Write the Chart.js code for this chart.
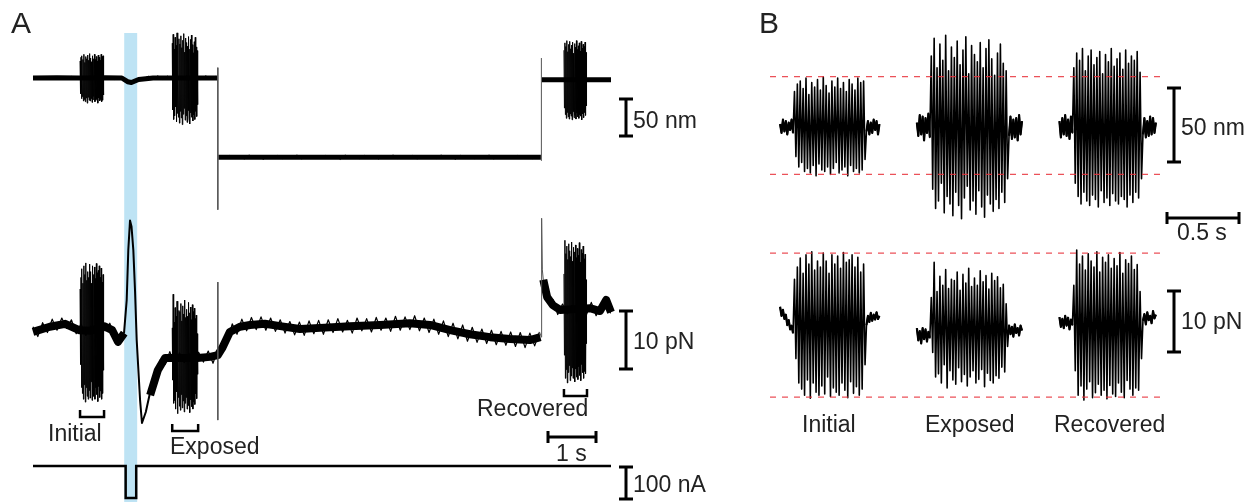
<!DOCTYPE html>
<html>
<head>
<meta charset="utf-8">
<script src="https://cdn.jsdelivr.net/npm/chart.js@4.4.1/dist/chart.umd.min.js"></script>
<style>
  body { margin: 0; background: #fff; }
  #fig { position: relative; width: 1258px; height: 502px; overflow: hidden;
         font-family: "Liberation Sans", Arial, Helvetica, sans-serif; color: #222; }
  canvas { position: absolute; top: 0; }
  .lbl { position: absolute; font-size: 23px; line-height: 1; white-space: nowrap; }
  .panel { font-size: 30px; }
</style>
</head>
<body>
<div id="fig">
  <canvas id="chartA" width="760" height="502" style="left:0"></canvas>
  <canvas id="chartB" width="498" height="502" style="left:760px"></canvas>

  <div class="lbl panel" style="left:11px;top:8px">A</div>
  <div class="lbl panel" style="left:759px;top:8px">B</div>

  <div class="lbl" style="left:633px;top:109px">50 nm</div>
  <div class="lbl" style="left:633px;top:330px">10 pN</div>
  <div class="lbl" style="left:633px;top:473px">100 nA</div>
  <div class="lbl" style="left:556px;top:442px">1 s</div>
  <div class="lbl" style="left:48px;top:422px">Initial</div>
  <div class="lbl" style="left:170px;top:435px">Exposed</div>
  <div class="lbl" style="left:477px;top:397px">Recovered</div>

  <div class="lbl" style="left:1181px;top:116px">50 nm</div>
  <div class="lbl" style="left:1177px;top:221px">0.5 s</div>
  <div class="lbl" style="left:1181px;top:310px">10 pN</div>
  <div class="lbl" style="left:802px;top:413px">Initial</div>
  <div class="lbl" style="left:925px;top:413px">Exposed</div>
  <div class="lbl" style="left:1054px;top:413px">Recovered</div>
</div>

<script>
// ---- stimulus bursts (shared by A and B), 0.01 s between samples ----
const sampleDt = 0.01;
const burstNames = ['Initial', 'Exposed', 'Recovered'];

// displacement, nm
const initialNm = [24,-20, 29,-27, 31,-24, 26,-30, 33,-28, 22,-31, 30,-26, 27,-33, 32,-25, 25,-29,
  34,-30, 28,-27, 23,-32, 31,-28, 27,-24, 33,-31, 26,-29, 30,-27, 24,-33, 32,-26,
  29,-30, 25,-28, 33,-31, 30,-29, 31,-22];
const exposedNm = [48,-42, 60,-55, 40,-50, 56,-38, 45,-58, 62,-47, 38,-52, 54,-60, 47,-44, 58,-53,
  42,-62, 52,-48, 61,-40, 36,-56, 55,-50, 49,-59, 44,-43, 57,-54, 40,-61, 53,-46,
  59,-52, 46,-57, 35,-49, 50,-55, 56,-44, 43,-51, 38,-35];
const recoveredNm = [40,-38, 50,-47, 45,-52, 53,-44, 38,-50, 48,-53, 52,-46, 42,-49, 47,-54, 51,-43,
  36,-51, 49,-48, 44,-53, 53,-45, 41,-50, 46,-52, 50,-47, 39,-49, 52,-54, 43,-46,
  48,-51, 45,-44, 51,-48, 37,-35];

// force, pN
const initialPn = [7,-6, 9,-10, 10.5,-11, 8,-12, 11,-9.5, 9.5,-12.5, 11.5,-10, 8.5,-11.5, 10,-12, 9,-10.5,
  11.3,-11.8, 10,-9, 8,-12.2, 11,-10.8, 9.5,-11.5, 10.8,-12, 8.8,-10, 11.4,-11.2, 9.8,-12.4, 10.2,-9.8,
  11,-11.7, 9,-10.6, 10.6,-12, 8.2,-11, 9.5,-7];
const exposedPn = [4,-5, 9.8,-9, 5,-8.5, 7.5,-10, 6,-7, 8.6,-10.8, 5.5,-8, 7,-9.5, 6.8,-10.2, 8.2,-7.5,
  5.2,-9.8, 7.8,-8.6, 6.4,-10.5, 8.8,-9, 5.8,-8, 7.2,-10, 6,-9.4, 8.4,-7.8, 6.6,-10.6, 7.6,-8.4,
  5.4,-9.6, 8,-10, 6.8,-8.8, 7.4,-9.2, 5.6,-7.4, 6.2,-8.2, 3,-4];
const recoveredPn = [6,-8, 11.8,-12, 9.5,-10.5, 10.8,-12.8, 8.5,-11, 11.2,-9.8, 10,-12.4, 9,-11.6, 11.5,-10.2, 8.2,-12,
  10.6,-11.2, 9.8,-12.6, 11,-10.4, 8.8,-11.8, 10.4,-12.2, 9.2,-10, 11.4,-11.5, 8,-12.4, 10.2,-9.6, 9.6,-11,
  10.8,-12, 8.6,-10.8, 9.4,-11.2, 5,-6];

// resting noise before / after each burst (panel B), 10 samples each
const preNm  = [[2,-4,5,-3,4,-5,3,-2,5,-4], [3,-6,8,-5,7,-9,6,-4,9,-7], [4,-7,6,-5,8,-6,5,-8,7,-4]];
const postNm = [[-3,4,-5,3,-4,5,-2,4,-5,2], [-6,7,-8,5,-7,6,-9,8,-5,4], [-5,6,-7,4,-6,7,-5,6,-4,3]];
const prePn  = [[2.5,1,2,0.5,1.2,-0.5,0.3,-1.2,-0.6,-1.8], [-1,-3,-1.5,-3.5,-1,-2.8,-1.2,-3.2,-1.6,-2.6],
                [0.8,-0.8,0.5,-1,1,-0.6,0.7,-1.2,0.4,-0.5]];
const postPn = [[-0.5,1,0,1.5,0.2,1.2,0.4,1.6,0.5,1], [-0.5,-2,-0.8,-2.4,-0.4,-1.8,-1,-2.2,-0.6,-1.4],
                [0.2,1.3,-0.4,1.6,0.3,1,-0.2,1.8,0.6,1.2]];

// ---- panel A: whole record, time in s ----
const lightOn = [1.90, 2.17];
const burstStartA = [0.98, 2.90, 11.06];
const burstOffsetNmA = [-1, -1, -2.5];
const burstOffsetPnA = [-0.8, -4.5, 2.8];

// slow trends (null = break)
const dispTimes = [0, 0.5, 0.98, 1.5, 1.85, 1.97, 2.05, 2.2, 2.5, 2.9, 3.5, 3.84, 7, 10.60, 11.0, 11.6, 12.04];
const dispNm    = [0, 0.5, 0, 0.5, 0, -5, -6, -2, 0, 0, 0, 0, null, -2.5, -2.5, -2.5, -2.5];
const dispLowTimes = [3.86, 5, 7, 9, 10.58];
const dispLowNm    = [-107, -107, -107, -107, -107];
const forceTimes = [0, 0.35, 0.67, 0.96, 1.2, 1.48, 1.65, 1.77, 1.90, 2.1, 2.44, 2.6, 2.75, 2.88, 3.42, 3.69,
  3.85, 3.94, 4.1, 4.31, 4.52, 4.83, 5.15, 5.56, 5.98, 6.6, 7.23, 7.85, 8.27, 8.69, 9.1, 9.52, 9.94, 10.35,
  10.57, 10.6, 10.63, 10.71, 10.83, 10.98, 11.6, 11.81, 11.94, 12.04];
const forcePn = [-1.2, -0.3, 0.2, -0.9, -1, -0.2, -0.9, -2.9, -1.4, null, -12.1, -7.8, -5.7, -5.7, -5.7, -5.5,
  -5.2, -4, -1.2, -0.3, 0, 0.2, -0.2, -0.7, -0.5, -0.2, 0, 0.3, 0, -0.9, -1.6, -2.1, -2.4, -2.6,
  -2.1, null, 7.8, 4.8, 3.4, 2.6, 2.9, 2.4, 4.3, 2.2];

// noise on the slow traces, sampled every 0.1 s from the segment starts
const slowDt = 0.1;
const dispHighNm = [1.5,-1.8,2.0,-1.2,1.6,-2.2,1.0,-1.5,2.2,-1.0, 1.8,-2.0,1.2,-1.6,2.0,-1.4,1.5,-2.1,0.8,-2.5,
  -5.0,-6.5,-3.0,-1.0,2.5,-1.5,3.0,-2.0,2.6,-2.8, 1.8,-2.4,3.2,-1.6,2.4,-2.6,3.0,-1.8,2.2];
const dispLowNoiseNm = [-105,-109,-104.5,-108.5,-105.5,-109.5,-104,-108,-106,-110,-105,-108.5,-104.5,-109,-105.5,-108,-104,-109.5,-105,-108,
  -106,-109,-104.5,-108.5,-105,-110,-104,-108,-105.5,-109,-104.5,-108,-106,-109.5,-105,-108.5,-104,-109,-105.5,-108,
  -104.5,-109.5,-105,-108,-106,-109,-104,-108.5,-105.5,-110,-104.5,-108,-105,-109,-106,-108.5,-104,-109.5,-105,-108,
  -105.5,-109,-104.5,-108.5,-105,-109,-106];
const dispBackNm = [-1.0,-4.0,-1.5,-4.2,-0.8,-3.8,-1.2,-4.4,-1.0,-3.6,-1.4,-4.0,-0.9,-3.9,-1.6];
const dispSegStart = [0, 3.9, 10.6];
const forcePreLightPn = [-0.3,-2.0,0.4,-1.3,1.0,-0.9,1.2,-0.6,0.9,-1.5, 0.2,-1.8,-0.2,-1.6,0.4,-1.0,0.3,-2.3,-3.0,-1.4];
const forceMidPn = [-11.2,-10.3,-6.0,-6.8,-4.6,-6.9,-4.8,-6.5,-4.9,-6.8, -4.7,-6.4,-4.5,-6.6,-4.2,-3.0,-2.8,0.2,-1.6,1.0,
  -1.0,1.3,-0.8,1.4,-0.9,1.2,-1.1,0.9,-1.4,0.6, -1.7,0.5,-1.8,0.7,-1.5,0.8,-1.6,0.9,-1.3,1.1,
  -1.2,0.8,-1.4,1.2,-1.0,1.1,-1.2,1.3,-0.9,1.2, -1.1,1.5,-0.9,1.4,-0.8,1.6,-1.0,1.2,-1.3,1.0,
  -1.6,0.7,-2.0,0.3,-2.4,0.0,-2.8,-0.4,-3.0,-0.7, -3.2,-0.9,-3.4,-1.1,-3.5,-1.2,-3.7,-1.3,-3.9,-1.4,
  -3.6,-1.2];
const forceBackPn = [7.8,4.2,4.4,1.8,3.6,1.9,3.4,2.0,3.5,1.8,3.9,1.6,3.2,4.6,2.0];
const forceSegStart = [0, 2.45, 10.63];

// fast transient and switching artefacts
const transientTimes = [1.896, 1.952, 1.985, 2.021, 2.052, 2.09, 2.125, 2.16, 2.23, 2.27, 2.35, 2.45];
const transientPn    = [-1.4, 4.3, 12.9, 18, 17, 12.9, 6, -2.6, -12.9, -16.9, -15, -11.2];
const dispArtTimes = [3.85, 3.85, 7, 10.59, 10.59];
const dispArtNm    = [14, -178, null, -112, 27];
const forceArtTimes = [3.85, 3.85, 7, 10.55, 10.59, 10.595, 10.61, 10.63];
const forceArtPn    = [7.4, -16.4, null, -1.2, -2.1, 18.4, 9.5, 7.8];

const currentTimes = [0, 1.93, 1.93, 2.15, 2.15, 12.04];
const currentNa    = [0, 0, -100, -100, 0, 0];

// ---- panel B: segment start times and reference levels ----
const segStartB = [0, 0.95, 1.94];
const dashRange = [-0.07, 2.64];
const refNm = [34, -32];
const refPn = [11.3, -12.3];

// ---- helpers ----
const toPts = (ts, vs) => ts.map((t, i) => ({ x: t, y: vs[i] }));
const seqPts = (t0, vs, off = 0, dt = sampleDt) => vs.map((v, i) => ({ x: t0 + i * dt, y: v + off }));
const burstsNm = [initialNm, exposedNm, recoveredNm];
const burstsPn = [initialPn, exposedPn, recoveredPn];
const burstLen = burstsNm.map(b => b.length * sampleDt);

function line(data, axis, width, color, order, extra) {
  return Object.assign({ data, yAxisID: axis, borderWidth: width, borderColor: color, order,
    pointRadius: 0, fill: false, tension: 0, clip: false, borderJoinStyle: 'round' }, extra || {});
}

function vBar(ctx, x, yTop, len) {
  ctx.beginPath();
  ctx.moveTo(x, yTop); ctx.lineTo(x, yTop + len);
  ctx.moveTo(x - 7, yTop); ctx.lineTo(x + 7, yTop);
  ctx.moveTo(x - 7, yTop + len); ctx.lineTo(x + 7, yTop + len);
  ctx.stroke();
}
function hBar(ctx, x, y, len) {
  ctx.beginPath();
  ctx.moveTo(x, y); ctx.lineTo(x + len, y);
  ctx.moveTo(x, y - 6); ctx.lineTo(x, y + 6);
  ctx.moveTo(x + len, y - 6); ctx.lineTo(x + len, y + 6);
  ctx.stroke();
}
function bracket(ctx, x0, x1, yb) {
  ctx.beginPath();
  ctx.moveTo(x0, yb - 7); ctx.lineTo(x0, yb); ctx.lineTo(x1, yb); ctx.lineTo(x1, yb - 7);
  ctx.stroke();
}
const span = (scale, v) => Math.abs(scale.getPixelForValue(v) - scale.getPixelForValue(0));

// ---- panel A chart ----
const dsA = [
  line(toPts(dispTimes, dispNm), 'yNm', 5, '#000', 6),
  line(toPts(dispLowTimes, dispLowNm), 'yNm', 5, '#000', 6),
  line(toPts(forceTimes, forcePn), 'yPn', 8, '#000', 6),
  line(toPts(dispArtTimes, dispArtNm), 'yNm', 1, '#555', 4),
  line(toPts(transientTimes, transientPn), 'yPn', 2, '#000', 4),
  line(toPts(forceArtTimes, forceArtPn), 'yPn', 1, '#555', 4),
  line(toPts(currentTimes, currentNa), 'yNa', 2.5, '#000', 4, { borderJoinStyle: 'miter' })
];
[dispHighNm, dispLowNoiseNm, dispBackNm].forEach((vs, k) =>
  dsA.push(line(seqPts(dispSegStart[k], vs, 0, slowDt), 'yNm', 1, '#000', 5)));
[forcePreLightPn, forceMidPn, forceBackPn].forEach((vs, k) =>
  dsA.push(line(seqPts(forceSegStart[k], vs, 0, slowDt), 'yPn', 1.2, '#000', 5)));
burstStartA.forEach((t0, k) => {
  dsA.push(line(seqPts(t0, burstsNm[k], burstOffsetNmA[k]), 'yNm', 1, '#000', 1));
  dsA.push(line(seqPts(t0, burstsPn[k], burstOffsetPnA[k]), 'yPn', 1, '#000', 1));
});

const bracketYA = [417, 431, 396];
const panelAExtras = {
  id: 'panelAExtras',
  beforeDatasetsDraw(chart) {
    const { ctx, scales: { x } } = chart;
    const x0 = x.getPixelForValue(lightOn[0]), x1 = x.getPixelForValue(lightOn[1]);
    ctx.save();
    ctx.fillStyle = '#bee3f4';
    ctx.fillRect(x0, 33, x1 - x0, 502 - 33);
    ctx.restore();
  },
  afterDatasetsDraw(chart) {
    const { ctx, scales: { x, yNm, yPn, yNa } } = chart;
    ctx.save();
    ctx.strokeStyle = '#000';
    ctx.lineWidth = 3;
    vBar(ctx, 626, 99, span(yNm, 50));
    vBar(ctx, 626, 311, span(yPn, 10));
    vBar(ctx, 626, 467, span(yNa, 100));
    hBar(ctx, 548, 437, span(x, 1));
    ctx.lineWidth = 2.5;
    burstStartA.forEach((t0, k) => {
      bracket(ctx, x.getPixelForValue(t0), x.getPixelForValue(t0 + burstLen[k]), bracketYA[k]);
    });
    ctx.restore();
  }
};

new Chart(document.getElementById('chartA'), {
  type: 'line',
  data: { datasets: dsA },
  options: {
    responsive: false, animation: false, devicePixelRatio: 1, events: [],
    layout: { padding: { left: 33, right: 149, top: 0, bottom: 0 } },
    plugins: { legend: { display: false }, tooltip: { enabled: false } },
    scales: {
      x: { type: 'linear', display: false, min: 0, max: 12.04 },
      yNm: { type: 'linear', display: false, min: -572.97, max: 105.41 },
      yPn: { type: 'linear', display: false, min: -30.52, max: 56.03 },
      yNa: { type: 'linear', display: false, min: -112.5, max: 1456.25 }
    }
  },
  plugins: [panelAExtras]
});

// ---- panel B chart ----
const dsB = [];
segStartB.forEach((t0, k) => {
  const nPre = preNm[k].length;
  const tPost = t0 + (nPre + burstsNm[k].length) * sampleDt;
  dsB.push(line(seqPts(t0, preNm[k].concat(burstsNm[k], postNm[k])), 'yNm', 1.6, '#000', 3));
  dsB.push(line(seqPts(t0, prePn[k].concat(burstsPn[k], postPn[k])), 'yPn', 1.6, '#000', 3));
  dsB.push(line(seqPts(t0, preNm[k]), 'yNm', 2.2, '#000', 3));
  dsB.push(line(seqPts(tPost, postNm[k]), 'yNm', 2.2, '#000', 3));
  dsB.push(line(seqPts(t0, prePn[k]), 'yPn', 2.2, '#000', 3));
  dsB.push(line(seqPts(tPost, postPn[k]), 'yPn', 2.2, '#000', 3));
});
refNm.forEach(v => dsB.push(line(dashRange.map(t => ({ x: t, y: v })), 'yNm', 1.3, 'rgba(232,50,60,0.85)', 1,
  { borderDash: [6, 6], borderJoinStyle: 'miter' })));
refPn.forEach(v => dsB.push(line(dashRange.map(t => ({ x: t, y: v })), 'yPn', 1.3, 'rgba(232,50,60,0.85)', 1,
  { borderDash: [6, 6], borderJoinStyle: 'miter' })));

const panelBExtras = {
  id: 'panelBExtras',
  afterDatasetsDraw(chart) {
    const { ctx, scales: { x, yNm, yPn } } = chart;
    const left = chart.canvas.offsetLeft;
    ctx.save();
    ctx.strokeStyle = '#000';
    ctx.lineWidth = 3;
    vBar(ctx, 1174 - left, 88, span(yNm, 50));
    vBar(ctx, 1174 - left, 291, span(yPn, 10));
    hBar(ctx, 1167 - left, 218, span(x, 0.5));
    ctx.restore();
  }
};

new Chart(document.getElementById('chartB'), {
  type: 'line',
  data: { datasets: dsB },
  options: {
    responsive: false, animation: false, devicePixelRatio: 1, events: [],
    layout: { padding: { left: 10, right: 0, top: 0, bottom: 0 } },
    plugins: { legend: { display: false }, tooltip: { enabled: false } },
    scales: {
      x: { type: 'linear', display: false, min: -0.07, max: 3.319 },
      yNm: { type: 'linear', display: false, min: -253.38, max: 85.81 },
      yPn: { type: 'linear', display: false, min: -29.51, max: 52.79 }
    }
  },
  plugins: [panelBExtras]
});
</script>
</body>
</html>
